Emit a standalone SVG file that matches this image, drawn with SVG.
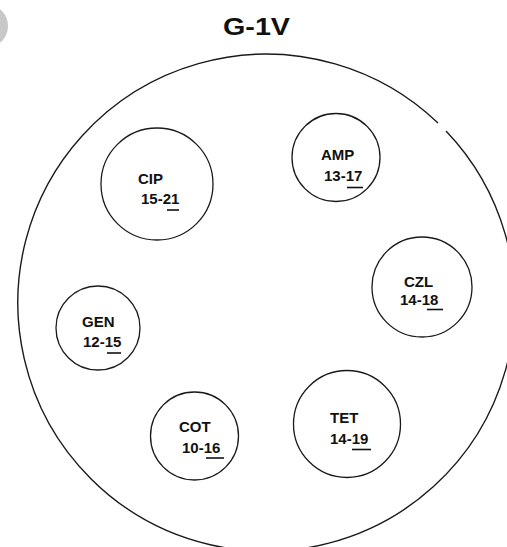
<svg xmlns="http://www.w3.org/2000/svg" width="507" height="547" viewBox="0 0 507 547">
<style>
.disk{fill:none;stroke:#1a1a1a;stroke-width:1.3}
.plate{fill:none;stroke:#1a1a1a;stroke-width:1.4}
.lbl{font-family:"Liberation Sans",Arial,sans-serif;font-weight:bold;font-size:15px;fill:#111}
.ul{stroke:#111;stroke-width:1.6}
</style>
<rect width="507" height="547" fill="#ffffff"/>
<ellipse id="blob" cx="-10" cy="26" rx="18" ry="20" fill="#c8c8c8"/>
<text id="title" x="223" y="35" font-family="'Liberation Sans',Arial,sans-serif" font-weight="bold" font-size="24" fill="#111" textLength="67" lengthAdjust="spacingAndGlyphs">G-1V</text>
<g id="plate">
<path class="plate" d="M 446 131 A 248.5 248.5 0 1 1 438 123"/>
</g>
<g id="cip">
<circle class="disk" cx="157" cy="184" r="56"/>
<text class="lbl" x="138" y="184">CIP</text>
<text class="lbl" x="141" y="204">15-21</text>
<line class="ul" x1="167" y1="210" x2="179" y2="210"/>
</g>
<g id="amp">
<circle class="disk" cx="336" cy="157.5" r="44"/>
<text class="lbl" x="321" y="160">AMP</text>
<text class="lbl" x="324" y="181">13-17</text>
<line class="ul" x1="347" y1="187.5" x2="363" y2="187.5"/>
</g>
<g id="czl">
<circle class="disk" cx="422" cy="287" r="50"/>
<text class="lbl" x="404" y="287">CZL</text>
<text class="lbl" x="400" y="305">14-18</text>
<line class="ul" x1="427" y1="309.5" x2="443" y2="309.5"/>
</g>
<g id="gen">
<circle class="disk" cx="98" cy="328" r="42"/>
<text class="lbl" x="82" y="327">GEN</text>
<text class="lbl" x="83" y="347">12-15</text>
<line class="ul" x1="107" y1="353" x2="121" y2="353"/>
</g>
<g id="cot">
<circle class="disk" cx="194.5" cy="436" r="44"/>
<text class="lbl" x="179" y="432">COT</text>
<text class="lbl" x="182" y="452.5">10-16</text>
<line class="ul" x1="206" y1="458" x2="224" y2="458"/>
</g>
<g id="tet">
<circle class="disk" cx="347" cy="424" r="53.5"/>
<text class="lbl" x="330" y="423">TET</text>
<text class="lbl" x="330" y="444">14-19</text>
<line class="ul" x1="352" y1="449.5" x2="371" y2="449.5"/>
</g>
</svg>
